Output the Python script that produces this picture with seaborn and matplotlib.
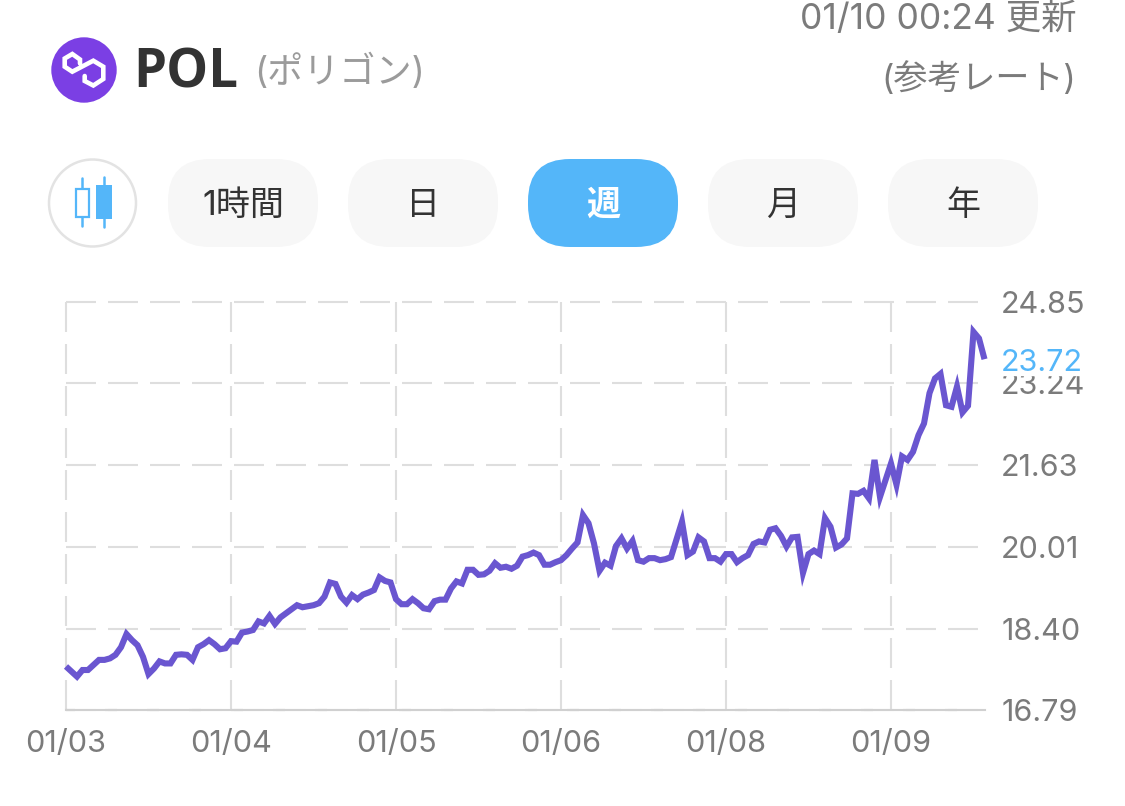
import numpy as np
import pandas as pd
import seaborn as sns
import matplotlib
matplotlib.use('Agg')
import matplotlib.pyplot as plt
from matplotlib.patches import Circle, FancyBboxPatch, Rectangle

# hourly rate over the week
price = [
    17.65, 17.55, 17.45, 17.58, 17.58, 17.68, 17.78, 17.78, 17.81, 17.88,
    18.03, 18.29, 18.17, 18.07, 17.84, 17.50, 17.61, 17.75, 17.71, 17.71,
    17.88, 17.89, 17.88, 17.78, 18.03, 18.09, 18.17, 18.09, 17.99, 18.01,
    18.15, 18.14, 18.32, 18.34, 18.37, 18.54, 18.50, 18.65, 18.49, 18.62,
    18.70, 18.78, 18.86, 18.82, 18.84, 18.86, 18.90, 19.03, 19.31, 19.28,
    19.03, 18.91, 19.06, 18.98, 19.07, 19.11, 19.16, 19.41, 19.34, 19.31,
    18.98, 18.88, 18.88, 18.98, 18.90, 18.80, 18.78, 18.94, 18.97, 18.97,
    19.19, 19.33, 19.29, 19.56, 19.56, 19.46, 19.47, 19.54, 19.69, 19.60,
    19.62, 19.58, 19.64, 19.82, 19.85, 19.90, 19.85, 19.66, 19.66, 19.71,
    19.75, 19.85, 19.98, 20.10, 20.64, 20.48, 20.08, 19.54, 19.70, 19.64,
    20.03, 20.18, 19.98, 20.13, 19.75, 19.72, 19.79, 19.79, 19.75, 19.77,
    19.81, 20.16, 20.51, 19.85, 19.92, 20.20, 20.12, 19.79, 19.79, 19.72,
    19.87, 19.87, 19.71, 19.79, 19.85, 20.07, 20.12, 20.10, 20.35, 20.38,
    20.23, 20.02, 20.20, 20.21, 19.50, 19.87, 19.94, 19.87, 20.58, 20.41,
    20.00, 20.06, 20.18, 21.07, 21.06, 21.12, 20.97, 21.73, 21.00, 21.33,
    21.66, 21.24, 21.80, 21.73, 21.89, 22.22, 22.45, 23.05, 23.34, 23.43,
    22.81, 22.78, 23.18, 22.67, 22.80, 24.26, 24.13, 23.72,
]
date_ticks = [0, 30, 60, 90, 120, 150]
date_labels = ['01/03', '01/04', '01/05', '01/06', '01/08', '01/09']
price_ticks = [16.79, 18.40, 20.01, 21.63, 23.24, 24.85]
range_labels = ['1時間', '日', '週', '月', '年']
active_range = '週'

W, H = 1125, 806
GREY = '#7b7b7b'
BLUE = '#54b6f9'
LINE = '#6a56d0'

sns.set_theme(style='white')
plt.rcParams['font.family'] = ['Inter', 'Noto Sans CJK JP', 'DejaVu Sans']

df = pd.DataFrame({'hour': np.arange(len(price)), 'price': price})

fig = plt.figure(figsize=(W / 100, H / 100), dpi=100, facecolor='white')

# page furniture is laid out in pixels on a full-figure axes
page = fig.add_axes([0, 0, 1, 1], zorder=0)
page.set_xlim(0, W)
page.set_ylim(H, 0)
page.axis('off')

# chart area
left, right, top, bottom = 66, 984.5, 302, 710
ax = fig.add_axes([left / W, 1 - bottom / H, (right - left) / W, (bottom - top) / H], zorder=1)
ax.patch.set_alpha(0)
sns.lineplot(data=df, x='hour', y='price', ax=ax, color=LINE, linewidth=4.4,
             solid_joinstyle='miter', solid_capstyle='butt', errorbar=None, clip_on=False, zorder=4)
ax.set_xlim(0, len(price) - 1)
ax.set_ylim(price_ticks[0], price_ticks[-1])
ax.set_xlabel('')
ax.set_ylabel('')
ax.set_xticks(date_ticks, date_labels)
ax.set_yticks(price_ticks, [f'{p:.2f}' for p in price_ticks])
ax.yaxis.tick_right()
ax.tick_params(axis='x', length=0, pad=14.5, labelsize=22, labelcolor=GREY)
ax.tick_params(axis='y', length=0, pad=12, labelsize=22, labelcolor=GREY)
ax.grid(True, color='#dedede', linewidth=1.5, linestyle=(0, (14.4, 5.76)))
ax.set_axisbelow(True)
for gl in ax.get_xgridlines() + ax.get_ygridlines():
    gl.set_clip_on(False)
for side in ['top', 'left', 'right']:
    ax.spines[side].set_visible(False)
ax.spines['bottom'].set_color('#d0d0d0')
ax.spines['bottom'].set_linewidth(1.5)
ax.axhline(price_ticks[0], color='#9a9a9a', linewidth=1.5, linestyle=(21.6, (5.76, 14.4)), clip_on=False, zorder=1.8)

# current rate sits on top of the 23.24 label
ax.add_patch(Rectangle((1000, 345), 92, 30, transform=page.transData, color='white', clip_on=False, zorder=5))
ax.annotate(f'{price[-1]:.2f}', xy=(len(price) - 1, price[-1]), xytext=(12, -2.5), textcoords='offset points',
            va='center', ha='left', fontsize=22, color=BLUE, annotation_clip=False, zorder=6)

# header
page.add_patch(Circle((84, 70), 32.7, color='#7b3fe4', lw=0))
logo = [(80, 63.5), (80, 59.5), (72.3, 54), (64.7, 58.5), (64.7, 66.7), (72.3, 71.7), (93.3, 60.7),
        (103.3, 66.7), (103.3, 79), (93.3, 85.5), (84.7, 81), (84.7, 76)]
page.plot([p[0] for p in logo], [p[1] for p in logo], color='white', lw=3.3, solid_joinstyle='miter')
page.text(133, 73, 'POL', fontsize=38, fontweight='bold', family='Open Sans', color='#333333', va='center', ha='left')
page.text(254, 72, '(ポリゴン)', fontsize=26, color='#9b9b9b', va='center', ha='left')
page.text(1077, 19, '01/10 00:24 更新', fontsize=25.5, color=GREY, va='center', ha='right')
page.text(1076, 79, '(参考レート)', fontsize=24.5, color=GREY, va='center', ha='right')

# candle toggle
page.add_patch(Circle((92.5, 203), 43.5, facecolor='white', edgecolor='#e3e3e3', lw=1.8))
page.plot([82, 82], [178, 226], color=BLUE, lw=1.8)
page.plot([104, 104], [177, 227], color=BLUE, lw=1.8)
page.add_patch(Rectangle((75.5, 188.5), 13, 28, facecolor='white', edgecolor=BLUE, lw=1.6, zorder=3))
page.add_patch(Rectangle((96, 185), 16, 34, facecolor=BLUE, edgecolor=BLUE, lw=0, zorder=3))

# range buttons
for i, label in enumerate(range_labels):
    x0 = 168 + 180 * i
    on = label == active_range
    page.add_patch(FancyBboxPatch((x0 + 42, 159 + 42), 150 - 84, 88 - 84,
                                  boxstyle='round,pad=42,rounding_size=42',
                                  facecolor=BLUE if on else '#f7f7f7', edgecolor='none'))
    page.text(x0 + 75, 206, label, fontsize=24.5, color='white' if on else '#333333',
              fontweight='bold' if on else 'normal', va='center', ha='center')

fig.savefig('out.png', dpi=100)
